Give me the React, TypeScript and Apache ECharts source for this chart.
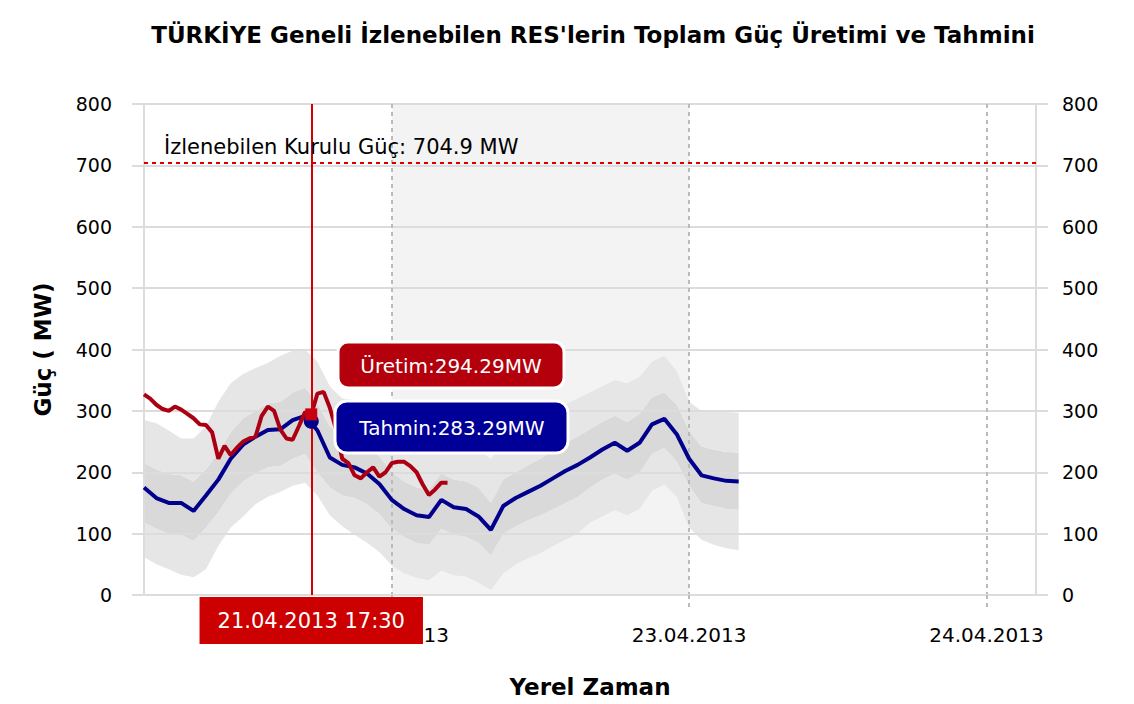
import React, { useEffect, useRef } from "react";
import * as echarts from "echarts";

const TITLE = "TÜRKİYE Geneli İzlenebilen RES'lerin Toplam Güç Üretimi ve Tahmini";
const Y_NAME = "Güç ( MW)";
const X_NAME = "Yerel Zaman";
const CAPACITY = 704.9;
const CAPACITY_LABEL = "İzlenebilen Kurulu Güç: 704.9 MW";
const CURSOR_LABEL = "21.04.2013 17:30";
const PROD_AT_CURSOR = 294.29;
const FC_AT_CURSOR = 283.29;

// time frame (local time)
const AXIS_MIN = new Date(2013, 3, 21, 4, 0).getTime();
const AXIS_MAX = new Date(2013, 3, 24, 4, 0).getTime();
const SHADE_FROM = new Date(2013, 3, 22, 0, 0).getTime();
const SHADE_TO = new Date(2013, 3, 23, 0, 0).getTime();
const CURSOR_TIME = new Date(2013, 3, 21, 17, 30).getTime();
const FC_START = new Date(2013, 3, 21, 4, 0).getTime();
const PROD_START = new Date(2013, 3, 21, 4, 0).getTime();
const HOUR = 3600000;

// forecast (hourly, MW)
const FORECAST = [175, 158, 150, 150, 137, 162, 188, 222, 245, 258, 269, 270, 285, 292, 268, 224, 212, 208, 198, 181, 155, 140, 130, 127, 155, 143, 140, 128, 106, 145, 158, 168, 178, 190, 202, 212, 224, 237, 248, 235, 248, 278, 287, 262, 222, 195, 190, 186, 185];
// uncertainty bands (hourly, MW)
const OUTER_UP = [285, 280, 268, 255, 255, 275, 315, 345, 360, 370, 378, 390, 398, 400, 380, 340, 320, 318, 300, 285, 265, 250, 240, 238, 262, 250, 248, 235, 222, 245, 262, 275, 285, 298, 310, 320, 330, 340, 350, 345, 355, 380, 390, 365, 315, 300, 300, 298, 297];
const INNER_UP = [215, 205, 197, 195, 185, 205, 232, 265, 288, 300, 312, 315, 330, 338, 312, 275, 258, 252, 243, 226, 200, 185, 175, 172, 198, 188, 185, 175, 150, 188, 200, 212, 222, 235, 248, 258, 270, 282, 292, 282, 295, 322, 330, 310, 268, 242, 237, 233, 232];
const INNER_LOW = [118, 108, 100, 98, 88, 110, 135, 165, 185, 198, 208, 210, 222, 230, 200, 175, 162, 158, 148, 132, 108, 95, 85, 82, 108, 98, 95, 85, 65, 100, 112, 122, 130, 140, 150, 160, 175, 188, 198, 188, 200, 230, 240, 218, 178, 150, 145, 140, 139];
const OUTER_LOW = [62, 50, 42, 33, 29, 42, 80, 110, 128, 148, 160, 168, 178, 183, 162, 130, 112, 98, 85, 70, 48, 35, 28, 24, 40, 32, 30, 20, 8, 35, 50, 60, 68, 80, 90, 100, 118, 128, 138, 130, 140, 170, 180, 160, 110, 90, 82, 76, 73];
// production (30-minute, MW)
const PRODUCTION = [327, 320, 310, 303, 300, 307, 302, 295, 288, 278, 277, 265, 222, 243, 228, 240, 250, 255, 258, 292, 307, 300, 270, 255, 253, 275, 298, 294.29, 328, 331, 305, 270, 222, 215, 195, 190, 200, 208, 193, 200, 215, 217, 217, 210, 200, 180, 163, 172, 183, 183];

const Y_MIN = 0;
const Y_MAX = 800;
const Y_STEP = 100;

const FONT = "DejaVu Sans";

function pad(n: number) {
  return n < 10 ? "0" + n : "" + n;
}

export default function App() {
  const ref = useRef<HTMLDivElement>(null);
  useEffect(() => {
    if (!ref.current) return;
    const chart = echarts.init(ref.current, undefined, { renderer: "svg" });
    const fcT = (i: number) => FC_START + i * HOUR;
    const prT = (i: number) => PROD_START + (i * HOUR) / 2;
    const base = OUTER_LOW.map((v, i) => [fcT(i), v]);
    const seg1 = INNER_LOW.map((v, i) => [fcT(i), v - OUTER_LOW[i]]);
    const seg2 = INNER_UP.map((v, i) => [fcT(i), v - INNER_LOW[i]]);
    const seg3 = OUTER_UP.map((v, i) => [fcT(i), v - INNER_UP[i]]);
    const bandCommon = {
      type: "line",
      stack: "band",
      symbol: "none",
      showSymbol: false,
      lineStyle: { width: 0, opacity: 0 },
      z: 2,
      silent: true,
    };
    const gridColor = "#dcdcdc";
    const yAxisCommon = {
      type: "value",
      min: Y_MIN,
      max: Y_MAX,
      interval: Y_STEP,
      z: 3,
      axisLine: { show: true, lineStyle: { color: gridColor, width: 2 } },
      axisTick: { show: true, length: 12, lineStyle: { color: gridColor, width: 2 } },
    };
    const boxText = {
      fill: "#fff",
      fontFamily: FONT,
      fontSize: 20,
      align: "center",
      verticalAlign: "middle",
      textShadowOffsetX: 1,
      textShadowOffsetY: 1,
    };
    chart.setOption({
      animation: false,
      title: {
        text: TITLE,
        left: 588,
        top: 18,
        textAlign: "center",
        textStyle: { fontFamily: FONT, fontSize: 23, fontWeight: "bold", color: "#000" },
      },
      grid: { left: 144, right: 98, top: 104, bottom: 109, containLabel: false },
      xAxis: {
        type: "time",
        min: AXIS_MIN,
        max: AXIS_MAX,
        minInterval: 24 * HOUR,
        maxInterval: 24 * HOUR,
        z: 3,
        name: X_NAME,
        nameLocation: "middle",
        nameGap: 80,
        nameTextStyle: { fontFamily: FONT, fontSize: 23, fontWeight: "bold", color: "#000" },
        axisLine: { show: true, lineStyle: { color: gridColor, width: 2 } },
        axisTick: { show: true, length: 12, lineStyle: { color: "#bbbbbb", width: 2, type: [4, 4] } },
        splitLine: { show: true, lineStyle: { color: "#bbbbbb", width: 2, type: [4, 4] } },
        axisLabel: {
          fontFamily: FONT,
          fontSize: 20,
          color: "#000",
          margin: 30,
          showMinLabel: false,
          showMaxLabel: false,
          formatter: (v: number) => {
            const d = new Date(v);
            return pad(d.getDate()) + "." + pad(d.getMonth() + 1) + "." + d.getFullYear();
          },
        },
      },
      yAxis: [
        {
          ...yAxisCommon,
          position: "left",
          name: Y_NAME,
          nameLocation: "middle",
          nameGap: 90,
          nameTextStyle: { fontFamily: FONT, fontSize: 23, fontWeight: "bold", color: "#000" },
          splitLine: { show: true, lineStyle: { color: gridColor, width: 2 } },
          axisLabel: { fontFamily: FONT, fontSize: 19, color: "#000", margin: 32 },
        },
        {
          ...yAxisCommon,
          position: "right",
          splitLine: { show: false },
          axisLabel: { fontFamily: FONT, fontSize: 19, color: "#000", margin: 26 },
        },
      ],
      series: [
        {
          type: "line",
          data: [],
          z: 1,
          silent: true,
          markArea: {
            silent: true,
            itemStyle: { color: "#f3f3f3" },
            data: [[{ xAxis: SHADE_FROM }, { xAxis: SHADE_TO }]],
          },
        },
        { ...bandCommon, name: "base", data: base },
        { ...bandCommon, name: "outerLow", data: seg1, areaStyle: { color: "#e6e6e6", opacity: 1 } },
        { ...bandCommon, name: "inner", data: seg2, areaStyle: { color: "#d9d9d9", opacity: 1 } },
        { ...bandCommon, name: "outerUp", data: seg3, areaStyle: { color: "#e6e6e6", opacity: 1 } },
        {
          type: "line",
          name: "Tahmin",
          data: FORECAST.map((v, i) => [fcT(i), v]),
          symbol: "none",
          showSymbol: false,
          lineStyle: { color: "#00008c", width: 4 },
          z: 4,
          markPoint: {
            silent: true,
            symbol: "circle",
            symbolSize: 15,
            itemStyle: { color: "#00008c" },
            label: { show: false },
            data: [{ coord: [CURSOR_TIME, FC_AT_CURSOR] }],
          },
        },
        {
          type: "line",
          name: "Üretim",
          data: PRODUCTION.map((v, i) => [prT(i), v]),
          symbol: "none",
          showSymbol: false,
          lineStyle: { color: "#ac0012", width: 4 },
          z: 4,
          markPoint: {
            silent: true,
            symbol: "rect",
            symbolSize: 12,
            itemStyle: { color: "#c80010" },
            label: { show: false },
            data: [{ coord: [CURSOR_TIME, PROD_AT_CURSOR] }],
          },
          markLine: {
            silent: true,
            symbol: "none",
            z: 5,
            data: [
              {
                yAxis: CAPACITY,
                lineStyle: { color: "#d40000", width: 2, type: [4, 4] },
                label: {
                  show: true,
                  position: "insideStartTop",
                  formatter: CAPACITY_LABEL,
                  fontFamily: FONT,
                  fontSize: 21,
                  color: "#000",
                  distance: [20, 5],
                },
              },
              {
                xAxis: CURSOR_TIME,
                lineStyle: { color: "#d40000", width: 2, type: "solid" },
                label: {
                  show: true,
                  position: "start",
                  formatter: CURSOR_LABEL,
                  fontFamily: FONT,
                  fontSize: 21,
                  color: "#fff",
                  backgroundColor: "#cc0000",
                  padding: [13, 18, 13, 18],
                  distance: 2,
                  textShadowColor: "rgba(60,0,0,0.9)",
                  textShadowOffsetX: 1,
                  textShadowOffsetY: 1,
                  textShadowBlur: 0,
                },
              },
            ],
          },
        },
      ],
      graphic: [
        {
          type: "rect",
          z: 100,
          shape: { x: 338, y: 342, width: 226, height: 46, r: 10 },
          style: { fill: "#b3000c", stroke: "#ffffff", lineWidth: 3 },
        },
        {
          type: "text",
          z: 101,
          x: 451,
          y: 366,
          style: { ...boxText, text: "Üretim:" + PROD_AT_CURSOR + "MW", textShadowColor: "rgba(40,0,0,0.9)" },
        },
        {
          type: "rect",
          z: 100,
          shape: { x: 335, y: 401, width: 233, height: 52, r: 12 },
          style: { fill: "#000099", stroke: "#ffffff", lineWidth: 3 },
        },
        {
          type: "text",
          z: 101,
          x: 452,
          y: 428,
          style: { ...boxText, text: "Tahmin:" + FC_AT_CURSOR + "MW", textShadowColor: "rgba(0,0,40,0.9)" },
        },
      ],
    });
    return () => chart.dispose();
  }, []);
  return (
    <div
      ref={ref}
      style={{ position: "fixed", left: 0, top: 0, width: 1134, height: 704, background: "#fff" }}
    />
  );
}
